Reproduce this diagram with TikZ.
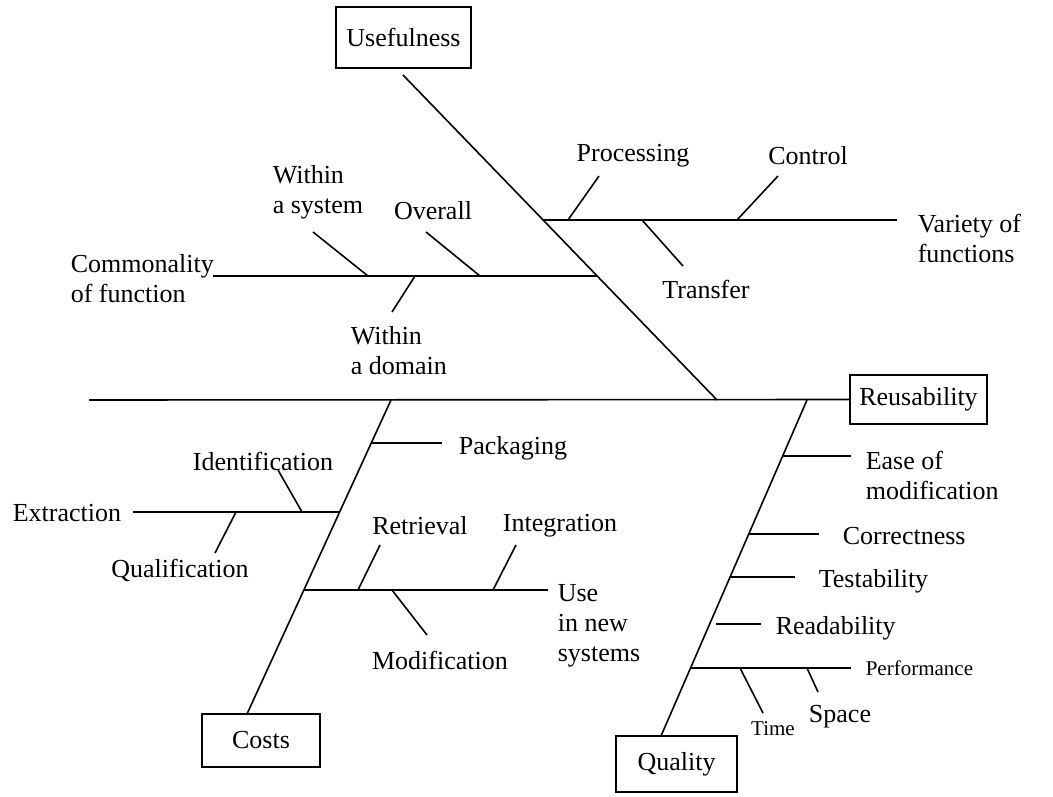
\documentclass[tikz,border=0pt]{standalone}
\usepackage{fontspec}
\setmainfont{Liberation Serif}
\begin{document}
\begin{tikzpicture}[x=1pt,y=-1pt,line width=1.6pt,
  lbl/.style={font=\fontsize{26}{30}\selectfont,inner sep=0pt,align=left},
  small/.style={font=\fontsize{21}{25}\selectfont,inner sep=0pt},
  box/.style={draw,line width=1.6pt,font=\fontsize{26}{30}\selectfont,inner sep=0pt}]
\useasboundingbox (0,0) rectangle (1053,797);
% boxes
\node[box,minimum width=135pt,minimum height=61pt] (useful) at (403.5,37.5) {Usefulness};
\node[box,minimum width=137pt,minimum height=49pt] (reuse) at (918.5,399.5) {Reusability};
\node[box,minimum width=118pt,minimum height=53pt] (costs) at (261,740.5) {Costs};
\node[box,minimum width=121pt,minimum height=56pt] (quality) at (676.5,764) {Quality};
% main bones
\coordinate (sp0) at (89,400);
\draw (sp0) -- (reuse.west);
\coordinate (u0) at (403,75); \coordinate (u1) at (717,400);
\draw (u0) -- (u1);
\coordinate (c1) at (391,400); \coordinate (c0) at (247,714);
\draw (c1) -- (c0);
\coordinate (q1) at (807,400); \coordinate (q0) at (661,736);
\draw (q1) -- (q0);
% Variety of functions
\node[lbl,anchor=west] (variety) at (917,238) {Variety of\\functions};
\coordinate (v0) at (543,220); \coordinate (v1) at (897,220);
\draw (v0) -- (v1);
\node[lbl] (processing) at (633,156) {Processing};
\node[lbl] (control) at (808,156) {Control};
\node[lbl] (transfer) at (706,289) {Transfer};
\coordinate (pa) at (568,220); \coordinate (pb) at (599,176); \draw (pa) -- (pb);
\coordinate (ca) at (737,220); \coordinate (cb) at (778,176); \draw (ca) -- (cb);
\coordinate (ta) at (642,220); \coordinate (tb) at (683,266); \draw (ta) -- (tb);
% Commonality of function
\node[lbl,anchor=west] (common) at (70,279) {Commonality\\of function};
\coordinate (k0) at (213,276); \coordinate (k1) at (597,276);
\draw (k0) -- (k1);
\node[lbl,anchor=west] (wsys) at (272,192) {Within\\a system};
\node[lbl] (overall) at (433,211) {Overall};
\node[lbl,anchor=west] (wdom) at (350,351) {Within\\a domain};
\coordinate (wsa) at (368,276); \coordinate (wsb) at (313,232); \draw (wsa) -- (wsb);
\coordinate (ova) at (480,276); \coordinate (ovb) at (426,232); \draw (ova) -- (ovb);
\coordinate (wda) at (415,276); \coordinate (wdb) at (392,312); \draw (wda) -- (wdb);
% Costs side
\coordinate (pk0) at (371,443); \coordinate (pk1) at (442,443); \draw (pk0) -- (pk1);
\node[lbl,anchor=west] (packaging) at (458,448) {Packaging};
\node[lbl] (extraction) at (67,513) {Extraction};
\coordinate (e0) at (133,512); \coordinate (e1) at (340,512); \draw (e0) -- (e1);
\node[lbl] (ident) at (263,461) {Identification};
\node[lbl] (qualif) at (180,570) {Qualification};
\coordinate (ida) at (302,512); \coordinate (idb) at (278,470); \draw (ida) -- (idb);
\coordinate (qla) at (236,512); \coordinate (qlb) at (215,553); \draw (qla) -- (qlb);
\coordinate (us0) at (304,590); \coordinate (us1) at (548,590); \draw (us0) -- (us1);
\node[lbl,anchor=west] (use) at (557,626) {Use\\in new\\systems};
\node[lbl] (retrieval) at (420,526) {Retrieval};
\node[lbl] (integration) at (560,526) {Integration};
\node[lbl] (modif) at (440,660) {Modification};
\coordinate (rta) at (358,590); \coordinate (rtb) at (380,545); \draw (rta) -- (rtb);
\coordinate (ina) at (493,590); \coordinate (inb) at (516,545); \draw (ina) -- (inb);
\coordinate (moa) at (392,590); \coordinate (mob) at (427,635); \draw (moa) -- (mob);
% Quality side
\coordinate (ea0) at (783,456); \coordinate (ea1) at (851,456); \draw (ea0) -- (ea1);
\node[lbl,anchor=west] (ease) at (865,475) {Ease of\\modification};
\coordinate (co0) at (749,534); \coordinate (co1) at (819,534); \draw (co0) -- (co1);
\node[lbl,anchor=west] (correct) at (842,536) {Correctness};
\coordinate (te0) at (730,577); \coordinate (te1) at (795,577); \draw (te0) -- (te1);
\node[lbl,anchor=west] (test) at (818,581) {Testability};
\coordinate (re0) at (716,624); \coordinate (re1) at (761,624); \draw (re0) -- (re1);
\node[lbl,anchor=west] (read) at (775,628) {Readability};
\coordinate (pf0) at (691,668); \coordinate (pf1) at (851,668); \draw (pf0) -- (pf1);
\node[small,anchor=west] (perf) at (865,668) {Performance};
\coordinate (tia) at (740,668); \coordinate (tib) at (763,713); \draw (tia) -- (tib);
\node[small] (time) at (773,729) {Time};
\coordinate (spa) at (807,668); \coordinate (spb) at (818,692); \draw (spa) -- (spb);
\node[lbl] (space) at (840,717) {Space};
\end{tikzpicture}
\end{document}
